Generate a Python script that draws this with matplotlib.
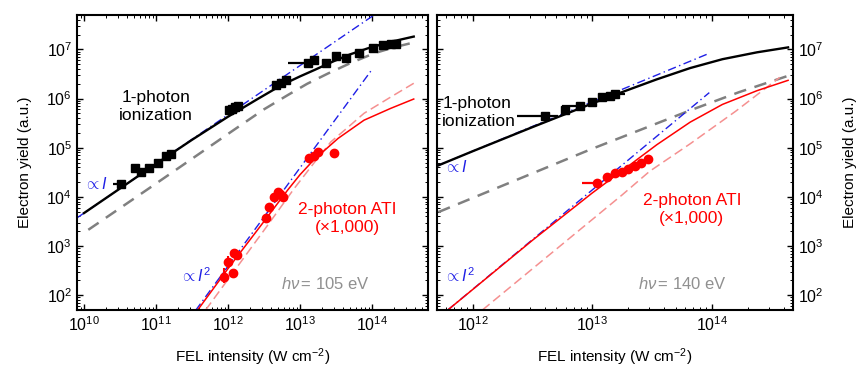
import numpy as np
import matplotlib
matplotlib.use('Agg')
import matplotlib.pyplot as plt
from matplotlib.ticker import FixedLocator, LogLocator, NullFormatter

plt.rcParams['font.family'] = ['Liberation Sans', 'DejaVu Sans']
plt.rcParams['mathtext.fontset'] = 'custom'
plt.rcParams['mathtext.rm'] = 'Liberation Sans'
plt.rcParams['mathtext.it'] = 'Liberation Sans:italic'

# values are log10 of intensity (W cm^-2) and log10 of yield (a.u.)

# ---- left panel, hv = 105 eV ----
L_black_x = [10.0, 11.0, 11.5, 12.0, 12.4, 12.74, 13.0, 13.2, 13.47, 13.7, 13.94, 14.25, 14.58]
L_black_y = [3.67, 4.67, 5.16, 5.63, 5.98, 6.27, 6.45, 6.58, 6.76, 6.90, 7.02, 7.15, 7.26]
L_grey_x = [10.06, 11.0, 12.08, 12.5, 12.83, 13.1, 13.39, 13.7, 14.03, 14.3, 14.58]
L_grey_y = [3.33, 4.27, 5.36, 5.78, 6.07, 6.30, 6.51, 6.72, 6.92, 7.04, 7.14]
L_lin_x = [9.9, 14.02]
L_lin_y = [3.57, 7.69]
L_quad_x = [11.55, 14.01]
L_quad_y = [1.69, 6.61]
L_red_x = [11.58, 12.0, 12.5, 12.83, 13.0, 13.19, 13.53, 13.89, 14.26, 14.58]
L_red_y = [1.70, 2.54, 3.50, 4.14, 4.45, 4.75, 5.19, 5.56, 5.80, 5.99]
L_pink_x = [11.69, 12.0, 12.5, 12.92, 13.2, 13.43, 13.67, 13.89, 14.26, 14.58]
L_pink_y = [1.70, 2.32, 3.32, 4.17, 4.70, 5.12, 5.42, 5.70, 6.03, 6.31]

L_sq_x = [10.51, 10.71, 10.79, 10.90, 11.03, 11.14, 11.21,
          12.02, 12.06, 12.10, 12.14, 12.67, 12.74, 12.81,
          13.11, 13.20, 13.36, 13.50, 13.64, 13.82, 14.01, 14.15, 14.26, 14.33]
L_sq_y = [4.26, 4.59, 4.51, 4.59, 4.69, 4.83, 4.87,
          5.76, 5.79, 5.82, 5.84, 6.27, 6.31, 6.37,
          6.72, 6.78, 6.72, 6.86, 6.82, 6.92, 7.02, 7.08, 7.10, 7.10]
L_sq_bar_x = [10.51, 13.11]
L_sq_bar_y = [4.26, 6.72]
L_sq_bar_lo = [10.40, 12.83]
L_sq_bar_hi = [10.57, 13.19]

L_dot_x = [11.94, 12.07, 12.0, 12.08, 12.12, 12.53, 12.57, 12.64, 12.69, 12.72, 12.76,
           13.13, 13.2, 13.25, 13.47]
L_dot_y = [2.38, 2.46, 2.68, 2.86, 2.82, 3.57, 3.80, 4.0, 4.10, 4.05, 4.0,
           4.79, 4.84, 4.91, 4.89]

# ---- right panel, hv = 140 eV ----
R_black_x = [11.70, 12.0, 12.5, 12.75, 13.0, 13.26, 13.54, 13.82, 14.09, 14.38, 14.64]
R_black_y = [4.63, 4.93, 5.42, 5.66, 5.90, 6.14, 6.39, 6.62, 6.80, 6.94, 7.04]
R_grey_x = [11.71, 12.3, 12.73, 12.98, 13.4, 13.82, 14.23, 14.65]
R_grey_y = [3.69, 4.28, 4.71, 4.96, 5.36, 5.76, 6.13, 6.47]
R_lin_x = [11.70, 13.98]
R_lin_y = [4.63, 6.92]
R_quad_x = [11.79, 13.98]
R_quad_y = [1.70, 6.12]
R_red_x = [11.79, 12.5, 13.0, 13.26, 13.54, 13.82, 14.09, 14.38, 14.64]
R_red_y = [1.70, 3.12, 4.08, 4.55, 5.06, 5.52, 5.88, 6.16, 6.37]
R_pink_x = [12.08, 12.5, 13.0, 13.25, 13.48, 13.82, 14.2, 14.57]
R_pink_y = [1.70, 2.54, 3.54, 4.04, 4.52, 5.08, 5.74, 6.43]

R_sq_x = [12.60, 12.77, 12.90, 13.0, 13.08, 13.15, 13.19]
R_sq_y = [5.64, 5.77, 5.84, 5.93, 6.03, 6.05, 6.09]
R_sq_bar_x = [12.60, 12.77, 13.19]
R_sq_bar_y = [5.64, 5.84, 6.09]
R_sq_bar_lo = [12.37, 12.75, 13.12]
R_sq_bar_hi = [12.71, 12.92, 13.27]

R_dot_x = [13.04, 13.12, 13.19, 13.25, 13.30, 13.36, 13.41, 13.47]
R_dot_y = [4.28, 4.40, 4.48, 4.51, 4.57, 4.63, 4.69, 4.77]
R_dot_bar_lo = [12.91]

L_xticks = [10, 11, 12, 13, 14]
R_xticks = [12, 13, 14]
yticks = [2, 3, 4, 5, 6, 7]

P = lambda v: np.power(10.0, np.asarray(v, dtype=float))

fig = plt.figure(figsize=(8.6, 3.68), dpi=100)
axL = fig.add_axes([77 / 860, 1 - 310 / 368, 351 / 860, 295 / 368])
axR = fig.add_axes([437 / 860, 1 - 310 / 368, 356 / 860, 295 / 368])

blue = '#1f1fe6'
pink = '#f59090'
grey = '#808080'


def draw(ax, bx, by, gx, gy, lx, ly, qx, qy, rx, ry, px, py):
    ax.plot(P(gx), P(gy), color=grey, lw=1.8, dashes=(5, 3.5))
    ax.plot(P(px), P(py), color=pink, lw=1.1, dashes=(6, 3))
    ax.plot(P(lx), P(ly), color=blue, lw=1.0, dashes=(6, 2.5, 1, 2.5))
    ax.plot(P(qx), P(qy), color=blue, lw=1.0, dashes=(6, 2.5, 1, 2.5))
    ax.plot(P(bx), P(by), color='black', lw=1.7)
    ax.plot(P(rx), P(ry), color='red', lw=1.1)


draw(axL, L_black_x, L_black_y, L_grey_x, L_grey_y, L_lin_x, L_lin_y,
     L_quad_x, L_quad_y, L_red_x, L_red_y, L_pink_x, L_pink_y)
draw(axR, R_black_x, R_black_y, R_grey_x, R_grey_y, R_lin_x, R_lin_y,
     R_quad_x, R_quad_y, R_red_x, R_red_y, R_pink_x, R_pink_y)

# data points
axL.hlines(P(L_sq_bar_y), P(L_sq_bar_lo), P(L_sq_bar_hi), color='black', lw=1.6)
axL.plot(P(L_sq_x), P(L_sq_y), 's', color='black', ms=5.5)
axL.vlines(P([11.94, 12.0]), P([2.25, 2.55]), P([2.55, 2.8]), color='red', lw=1.5)
axL.plot(P(L_dot_x), P(L_dot_y), 'o', color='red', ms=6)

axR.hlines(P(R_sq_bar_y), P(R_sq_bar_lo), P(R_sq_bar_hi), color='black', lw=1.6)
axR.plot(P(R_sq_x), P(R_sq_y), 's', color='black', ms=5.5)
axR.hlines(P(R_dot_y[:1]), P(R_dot_bar_lo), P(R_dot_x[:1]), color='red', lw=1.6)
axR.plot(P(R_dot_x), P(R_dot_y), 'o', color='red', ms=6)

for ax, xt in ((axL, L_xticks), (axR, R_xticks)):
    ax.set_xscale('log')
    ax.set_yscale('log')
    ax.set_ylim(50, 5e7)
    ax.xaxis.set_major_locator(FixedLocator(P(xt)))
    ax.yaxis.set_major_locator(FixedLocator(P(yticks)))
    ax.xaxis.set_minor_locator(LogLocator(base=10, subs=np.arange(2, 10), numticks=20))
    ax.yaxis.set_minor_locator(LogLocator(base=10, subs=np.arange(2, 10), numticks=20))
    ax.xaxis.set_minor_formatter(NullFormatter())
    ax.yaxis.set_minor_formatter(NullFormatter())
    ax.tick_params(which='both', direction='in', top=True, right=True, left=True, bottom=True,
                   labelsize=11.5)
    ax.tick_params(which='major', length=4, width=1)
    ax.tick_params(which='minor', length=2, width=0.7)
    for s in ax.spines.values():
        s.set_linewidth(1.5)
    ax.set_xlabel('FEL intensity (W cm$^{-2}$)', fontsize=11, labelpad=9)

axL.set_xlim(8e9, 6e14)
axR.set_xlim(5e11, 4.8e14)
axR.tick_params(which='both', left=True, right=True, labelleft=False, labelright=True)
axR.yaxis.set_label_position('right')
axL.set_ylabel('Electron yield (a.u.)', fontsize=11, labelpad=10)
axR.set_ylabel('Electron yield (a.u.)', fontsize=11, rotation=90, labelpad=14)

# annotations
fs = 12.5
axL.text(0.225, 0.69, '1-photon\nionization', transform=axL.transAxes, ha='center', va='center',
         fontsize=fs, linespacing=1.2)
axL.text(0.02, 0.41, r'$\propto I$', transform=axL.transAxes, color=blue, fontsize=11.5)
axL.text(0.293, 0.095, r'$\propto I^2$', transform=axL.transAxes, color=blue, fontsize=11.5)
axL.text(0.77, 0.31, '2-photon ATI\n(\u00d71,000)', transform=axL.transAxes, ha='center',
         va='center', color='red', fontsize=fs, linespacing=1.2)
axL.text(0.707, 0.088, r'$h\nu\,$= 105 eV', transform=axL.transAxes, ha='center', va='center',
         color='#909090', fontsize=12)

axR.text(0.015, 0.67, '1-photon\nionization', transform=axR.transAxes, ha='left', va='center',
         fontsize=fs, linespacing=1.2)
axR.text(0.02, 0.468, r'$\propto I$', transform=axR.transAxes, color=blue, fontsize=11.5)
axR.text(0.02, 0.095, r'$\propto I^2$', transform=axR.transAxes, color=blue, fontsize=11.5)
axR.text(0.716, 0.34, '2-photon ATI\n(\u00d71,000)', transform=axR.transAxes, ha='center',
         va='center', color='red', fontsize=fs, linespacing=1.2)
axR.text(0.69, 0.088, r'$h\nu\,$= 140 eV', transform=axR.transAxes, ha='center', va='center',
         color='#909090', fontsize=12)

fig.savefig('out.png', dpi=100)
